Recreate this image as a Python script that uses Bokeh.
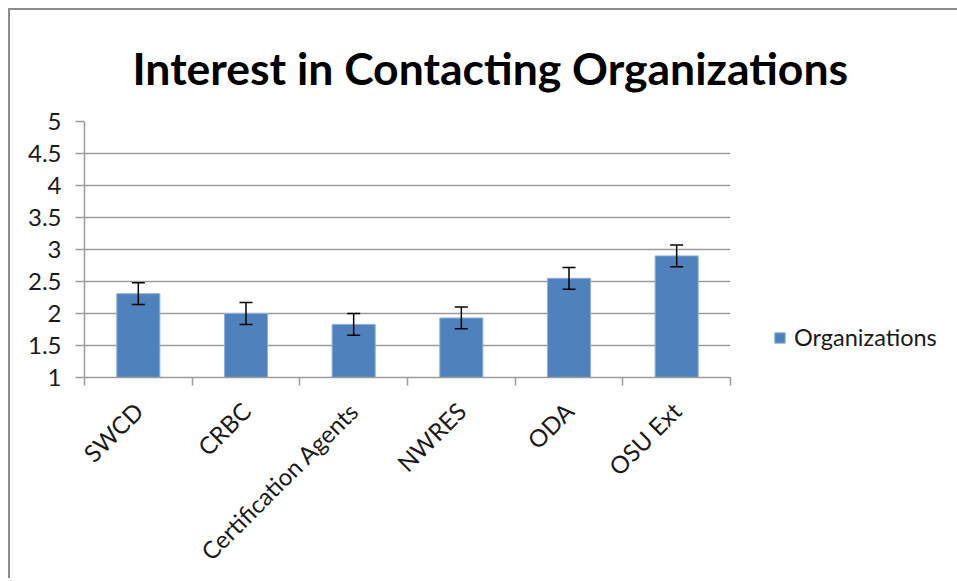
from math import pi
from bokeh.plotting import figure
from bokeh.models import (ColumnDataSource, Whisker, TeeHead, FixedTicker,
                          Legend, LegendItem)
from bokeh.embed import file_html
from bokeh.resources import INLINE

categories = ["SWCD", "CRBC", "Certification Agents", "NWRES", "ODA", "OSU Ext"]
means = [2.31, 2.00, 1.83, 1.93, 2.55, 2.90]
errors = [0.17, 0.17, 0.17, 0.17, 0.17, 0.17]
y_ticks = [1, 1.5, 2, 2.5, 3, 3.5, 4, 4.5, 5]
y_tick_labels = ["1", "1.5", "2", "2.5", "3", "3.5", "4", "4.5", "5"]
series_name = "Organizations"
title_text = "Interest in Contacting Organizations"

FONT = "Lato"
BAR = "#4F81BD"
GRID = "#9c9c9c"

xs = [i + 0.5 for i in range(len(categories))]
src = ColumnDataSource(dict(
    x=xs, top=means,
    upper=[m + e for m, e in zip(means, errors)],
    lower=[m - e for m, e in zip(means, errors)],
))

p = figure(frame_width=646, frame_height=256,
           x_range=(0, len(categories)), y_range=(1, 5),
           output_backend="svg", toolbar_location=None,
           min_border_left=74, min_border_top=111,
           min_border_right=225, min_border_bottom=196)
p.styles = {"border-top": "2px solid #8c8c8c", "border-left": "2px solid #8c8c8c",
            "margin-left": "8px", "margin-top": "8px"}
p.outline_line_color = None

p.title.text = title_text
p.title.text_font = FONT
p.title.text_font_style = "bold"
p.title.text_font_size = "44.5px"
p.title.text_color = "#000000"
p.title.align = "left"
p.title.offset = 48
p.title.standoff = 55

r = p.vbar(x="x", top="top", bottom=1, width=0.4, source=src,
           fill_color=BAR, line_color="#8fb0dc", line_width=1)

w = Whisker(source=src, base="x", upper="upper", lower="lower",
            line_color="black", line_width=1.5, level="overlay",
            upper_head=TeeHead(size=13, line_color="black", line_width=1.5),
            lower_head=TeeHead(size=13, line_color="black", line_width=1.5))
p.add_layout(w)

# y axis
p.yaxis.ticker = FixedTicker(ticks=y_ticks, minor_ticks=[])
p.yaxis.major_label_overrides = {t: l for t, l in zip(y_ticks, y_tick_labels)}
p.yaxis.axis_line_color = GRID
p.yaxis.axis_line_width = 1.5
p.yaxis.major_tick_line_color = GRID
p.yaxis.major_tick_line_width = 1.5
p.yaxis.major_tick_out = 9
p.yaxis.major_tick_in = 0
p.yaxis.minor_tick_line_color = None
p.yaxis.major_label_standoff = 14
p.yaxis.major_label_text_font = FONT
p.yaxis.major_label_text_font_size = "24px"
p.yaxis.major_label_text_color = "#1a1a1a"

# x axis
p.xaxis.ticker = FixedTicker(ticks=xs, minor_ticks=list(range(len(categories) + 1)))
p.xaxis.major_label_overrides = {x: c for x, c in zip(xs, categories)}
p.xaxis.major_label_orientation = pi / 4
p.xaxis.axis_line_color = GRID
p.xaxis.axis_line_width = 1.5
p.xaxis.major_tick_line_color = None
p.xaxis.minor_tick_line_color = GRID
p.xaxis.minor_tick_line_width = 1.5
p.xaxis.minor_tick_out = 8
p.xaxis.minor_tick_in = 0
p.xaxis.major_label_standoff = 21
p.xaxis.major_label_text_font = FONT
p.xaxis.major_label_text_font_size = "24px"
p.xaxis.major_label_text_color = "#1a1a1a"

p.xgrid.grid_line_color = None
p.ygrid.grid_line_color = GRID
p.ygrid.grid_line_width = 1.5

legend = Legend(items=[LegendItem(label=series_name, renderers=[r])],
                location=(43, 26), padding=0, margin=0, spacing=0,
                glyph_width=13, glyph_height=13, label_standoff=8,
                label_text_font=FONT, label_text_font_size="23.5px",
                label_text_color="#1a1a1a",
                border_line_color=None, background_fill_alpha=0)
p.add_layout(legend, "right")

open("out.html", "w").write(file_html(p, INLINE))
